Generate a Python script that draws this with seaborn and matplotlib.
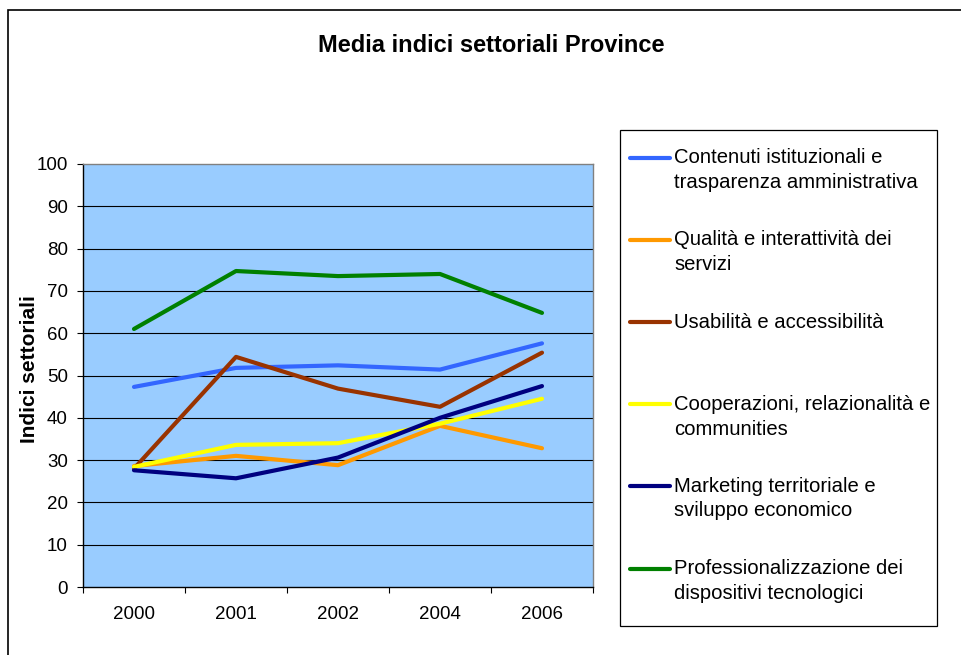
import matplotlib
matplotlib.use("Agg")
import matplotlib.pyplot as plt
import seaborn as sns
import pandas as pd
from matplotlib.patches import Rectangle
from matplotlib.lines import Line2D

# ---- data ----
years = ["2000", "2001", "2002", "2004", "2006"]
series_names = [
    "Contenuti istituzionali e trasparenza amministrativa",
    "Qualità e interattività dei servizi",
    "Usabilità e accessibilità",
    "Cooperazioni, relazionalità e communities",
    "Marketing territoriale e sviluppo economico",
    "Professionalizzazione dei dispositivi tecnologici",
]
contenuti = [47.3, 51.8, 52.4, 51.4, 57.6]
qualita = [28.6, 31.0, 28.8, 38.1, 32.8]
usabilita = [28.0, 54.4, 46.9, 42.6, 55.4]
cooperazioni = [28.4, 33.6, 34.0, 38.6, 44.5]
marketing = [27.6, 25.7, 30.6, 40.0, 47.5]
professionalizzazione = [61.0, 74.7, 73.5, 74.0, 64.8]
values = [contenuti, qualita, usabilita, cooperazioni, marketing, professionalizzazione]
colors = ["#3366FF", "#FF9900", "#993300", "#FFFF00", "#000080", "#008000"]
legend_lines = [
    ["Contenuti istituzionali e", "trasparenza amministrativa"],
    ["Qualità e interattività dei", "servizi"],
    ["Usabilità e accessibilità"],
    ["Cooperazioni, relazionalità e", "communities"],
    ["Marketing territoriale e", "sviluppo economico"],
    ["Professionalizzazione dei", "dispositivi tecnologici"],
]
title = "Media indici settoriali Province"
ylabel = "Indici settoriali"
yticks = [0, 10, 20, 30, 40, 50, 60, 70, 80, 90, 100]

rows = []
for name, vals in zip(series_names, values):
    for yr, v in zip(years, vals):
        rows.append({"Anno": yr, "Indice": v, "Serie": name})
df = pd.DataFrame(rows)

sns.set_theme(style="white")
plt.rcParams["font.family"] = ["Liberation Sans", "DejaVu Sans"]
plt.rcParams["text.color"] = "black"
plt.rcParams["xtick.color"] = "black"
plt.rcParams["ytick.color"] = "black"

W, H = 961, 655
fig = plt.figure(figsize=(W / 100, H / 100), dpi=100)

def fx(px):
    return px / W

def fy(py):
    return 1 - py / H

ax = fig.add_axes([fx(83), fy(587), fx(593) - fx(83), fy(164) - fy(587)])
ax.set_facecolor("#99CCFF")

sns.lineplot(data=df, x="Anno", y="Indice", hue="Serie", hue_order=series_names,
             palette=colors, linewidth=3.0, legend=False, ax=ax,
             solid_capstyle="round", solid_joinstyle="round")

ax.set_xlim(-0.5, len(years) - 0.5)
ax.set_ylim(0, 100)
ax.set_yticks(yticks)
ax.set_yticklabels([str(t) for t in yticks])
for t in yticks[1:-1]:
    ax.axhline(t, color="black", linewidth=0.8, zorder=0.5)

ax.set_xticks(range(len(years)))
ax.set_xticklabels(years)
ax.set_xticks([i - 0.5 for i in range(len(years) + 1)], minor=True)
ax.tick_params(axis="x", which="major", length=0, pad=13.5, labelsize=13.5, colors="black")
ax.tick_params(axis="x", which="minor", length=4.5, width=0.8, direction="out", color="black", bottom=True)
ax.tick_params(axis="y", which="major", length=4.5, width=0.8, direction="out", pad=6.5,
               labelsize=13.5, colors="black", left=True)
ax.set_xlabel("")
ax.set_ylabel("")

for side in ["left", "bottom"]:
    ax.spines[side].set_color("black")
    ax.spines[side].set_linewidth(1.0)
for side in ["top", "right"]:
    ax.spines[side].set_color("#808080")
    ax.spines[side].set_linewidth(1.0)

fig.text(fx(491), fy(45), title, ha="center", va="center", fontsize=17, fontweight="bold",
         color="black")
fig.text(fx(30), fy(369), ylabel, ha="center", va="center", rotation=90,
         fontsize=15, fontweight="bold", color="black")

# outer chart border
fig.patches.append(Rectangle((fx(8), fy(H + 10)), fx(W + 10) - fx(8), fy(10) - fy(H + 10),
                             transform=fig.transFigure, fill=False, edgecolor="black",
                             linewidth=1.2))

# legend box
fig.patches.append(Rectangle((fx(620), fy(626)), fx(937) - fx(620), fy(130) - fy(626),
                             transform=fig.transFigure, fill=False, edgecolor="black",
                             linewidth=0.9))
first_y = [157.5, 239.5, 322.3, 404.3, 486, 568.5]
for lines, c, y0 in zip(legend_lines, colors, first_y):
    fig.lines.append(Line2D([fx(630), fx(670)], [fy(y0), fy(y0)], transform=fig.transFigure,
                            color=c, linewidth=3.0, solid_capstyle="round"))
    for k, txt in enumerate(lines):
        fig.text(fx(674), fy(y0 + 25 * k), txt, ha="left", va="center", fontsize=14.6,
                 color="black")

fig.savefig("out.png", dpi=100)
